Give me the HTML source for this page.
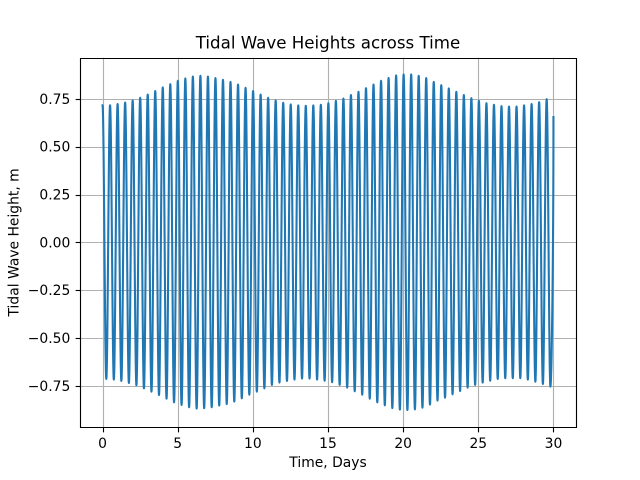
<!DOCTYPE html>
<html>
<head>
<meta charset="utf-8">
<title>Tidal Wave Heights across Time</title>
<style>
html,body{margin:0;padding:0;background:#fff;width:640px;height:480px;overflow:hidden}
svg{display:block}
text{font-family:"DejaVu Sans",sans-serif;fill:#000}
</style>
</head>
<body>
<svg id="chart" xmlns="http://www.w3.org/2000/svg" width="640" height="480" viewBox="0 0 640 480">
  <rect x="0" y="0" width="640" height="480" fill="#fff"/>
  <g id="grid"></g>
  <path id="series" fill="none" stroke="#1f77b4" stroke-width="2.083" stroke-linejoin="round" stroke-linecap="square"></path>
  <g id="ticks"></g>
  <g id="spines"></g>
  <text x="328" y="48.5" text-anchor="middle" font-size="16.667">Tidal Wave Heights across Time</text>
  <text x="328" y="467" text-anchor="middle" font-size="13.889">Time, Days</text>
  <text transform="translate(18.5,242.4) rotate(-90)" text-anchor="middle" font-size="13.889">Tidal Wave Height, m</text>
</svg>
<script>
const xTickValues = [0, 5, 10, 15, 20, 25, 30];
const yTickValues = [-0.75, -0.5, -0.25, 0, 0.25, 0.5, 0.75];
const yTickLabels = ["\u22120.75", "\u22120.50", "\u22120.25", "0.00", "0.25", "0.50", "0.75"];
const xDomain = [-1.5, 31.5];
const yDomain = [-0.966, 0.966];
const cycleDays = [0.5008];
const peakHeights = [
  0.717,0.717,0.723,0.731,0.742,0.756,0.773,0.791,0.810,0.827,
  0.845,0.857,0.867,0.871,0.867,0.859,0.850,0.839,0.825,0.808,
  0.791,0.773,0.756,0.742,0.730,0.721,0.716,0.714,0.716,0.719,
  0.728,0.740,0.752,0.770,0.787,0.806,0.825,0.845,0.860,0.873,
  0.878,0.878,0.871,0.859,0.839,0.822,0.805,0.787,0.770,0.754,
  0.740,0.728,0.719,0.712,0.710,0.710,0.716,0.723,0.733,0.749
];
const troughHeights = [
  -0.714,-0.717,-0.724,-0.735,-0.747,-0.763,-0.780,-0.798,-0.817,-0.836,
  -0.850,-0.862,-0.869,-0.867,-0.862,-0.853,-0.845,-0.832,-0.815,-0.796,
  -0.780,-0.763,-0.745,-0.733,-0.724,-0.717,-0.712,-0.712,-0.717,-0.723,
  -0.731,-0.745,-0.759,-0.778,-0.796,-0.817,-0.836,-0.852,-0.866,-0.874,
  -0.876,-0.873,-0.864,-0.848,-0.827,-0.812,-0.794,-0.777,-0.759,-0.745,
  -0.733,-0.723,-0.714,-0.710,-0.710,-0.710,-0.717,-0.728,-0.740,-0.754
];
const finalDay = [30];
const finalHeight = [0.655];

const plot = { left: 80, right: 576, top: 57.6, bottom: 427.2 };
const NS = "http://www.w3.org/2000/svg";
function xScale(d) {
  return plot.left + (d - xDomain[0]) / (xDomain[1] - xDomain[0]) * (plot.right - plot.left);
}
function yScale(v) {
  return plot.bottom - (v - yDomain[0]) / (yDomain[1] - yDomain[0]) * (plot.bottom - plot.top);
}
function snap(p) {
  return Math.round(p) + 0.5;
}
function addLine(parent, x1, y1, x2, y2, color, name) {
  const el = document.createElementNS(NS, "line");
  el.setAttribute("x1", x1);
  el.setAttribute("y1", y1);
  el.setAttribute("x2", x2);
  el.setAttribute("y2", y2);
  el.setAttribute("stroke", color);
  el.setAttribute("stroke-width", "1.111");
  
  
  parent.appendChild(el);
}
function addLabel(parent, x, y, anchor, content, name) {
  const el = document.createElementNS(NS, "text");
  el.setAttribute("x", x);
  el.setAttribute("y", y);
  el.setAttribute("text-anchor", anchor);
  el.setAttribute("font-size", "13.889");
  el.textContent = content;
  
  
  parent.appendChild(el);
}
const gridG = document.getElementById("grid");
const ticksG = document.getElementById("ticks");
const spinesG = document.getElementById("spines");

xTickValues.forEach(function (t) {
  const px = snap(xScale(t));
  addLine(gridG, px, plot.top, px, plot.bottom, "#b0b0b0", "x-grid-line-" + t);
  addLine(ticksG, px, snap(plot.bottom), px, snap(plot.bottom) + 4.86, "#000", "x-tick-" + t);
  addLabel(ticksG, xScale(t), 448, "middle", String(t), "x-tick-label-" + t);
});
yTickValues.forEach(function (v, i) {
  const py = snap(yScale(v));
  addLine(gridG, plot.left, py, plot.right, py, "#b0b0b0", "y-grid-line-" + i);
  addLine(ticksG, snap(plot.left) - 4.86, py, snap(plot.left), py, "#000", "y-tick-" + i);
  addLabel(ticksG, 70.3, yScale(v) + 5, "end", yTickLabels[i], "y-tick-label-" + i);
});
addLine(spinesG, snap(plot.left), snap(plot.top) - 0.55, snap(plot.left), snap(plot.bottom) + 0.55, "#000", "left-spine");
addLine(spinesG, snap(plot.right), snap(plot.top) - 0.55, snap(plot.right), snap(plot.bottom) + 0.55, "#000", "right-spine");
addLine(spinesG, snap(plot.left), snap(plot.top), snap(plot.right), snap(plot.top), "#000", "top-spine");
addLine(spinesG, snap(plot.left), snap(plot.bottom), snap(plot.right), snap(plot.bottom), "#000", "bottom-spine");

// Extremes alternate peak, trough; a half-cosine Bezier joins each pair.
const extremes = [];
peakHeights.forEach(function (h, i) {
  extremes.push([i * cycleDays[0], h]);
  if (i < troughHeights.length) {
    extremes.push([(i + 0.5) * cycleDays[0], troughHeights[i]]);
  }
});
let d = "M" + xScale(extremes[0][0]).toFixed(2) + " " + yScale(extremes[0][1]).toFixed(2);
for (let i = 1; i < extremes.length; i++) {
  const x0 = xScale(extremes[i - 1][0]), y0 = yScale(extremes[i - 1][1]);
  const x1 = xScale(extremes[i][0]), y1 = yScale(extremes[i][1]);
  const k = (x1 - x0) * 0.3642;
  d += "C" + (x0 + k).toFixed(2) + " " + y0.toFixed(2) + " " + (x1 - k).toFixed(2) + " " + y1.toFixed(2) + " " + x1.toFixed(2) + " " + y1.toFixed(2);
}
const lastX0 = xScale(extremes[extremes.length - 1][0]);
const lastY0 = yScale(extremes[extremes.length - 1][1]);
const lastX1 = xScale(finalDay[0]);
const lastY1 = yScale(finalHeight[0]);
d += "C" + (lastX0 + (lastX1 - lastX0) * 0.4).toFixed(2) + " " + lastY0.toFixed(2) + " " + lastX1.toFixed(2) + " " + ((lastY0 + lastY1) / 2).toFixed(2) + " " + lastX1.toFixed(2) + " " + lastY1.toFixed(2);
document.getElementById("series").setAttribute("d", d);
</script>
</body>
</html>
